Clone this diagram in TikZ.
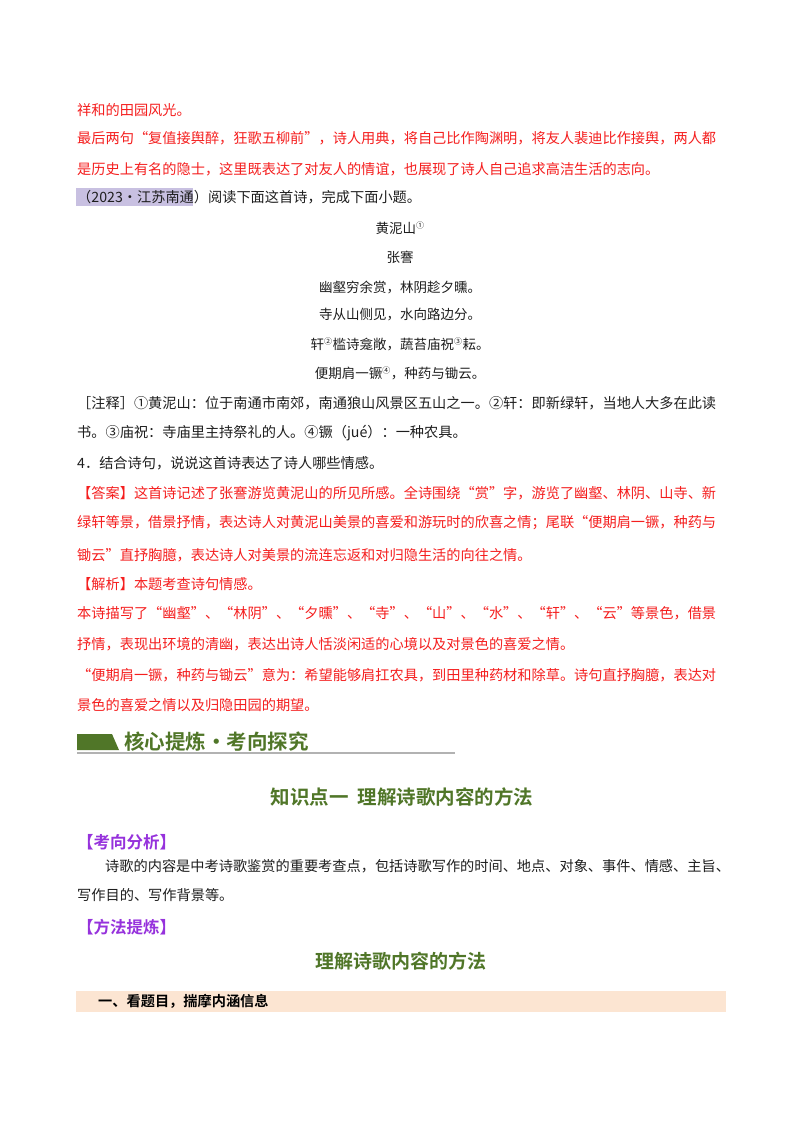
\documentclass[tikz,border=0pt]{standalone}
\usepackage{fontspec}
\setmainfont{Noto Sans CJK SC}
\newfontfamily\cjkb{Noto Sans CJK SC Bold}
\definecolor{ansred}{RGB}{245,30,30}
\definecolor{hdgreen}{RGB}{80,118,40}
\definecolor{tagpurple}{RGB}{150,50,220}
\definecolor{hlbox}{RGB}{200,192,225}
\definecolor{bandpeach}{RGB}{252,229,210}
\definecolor{bodygray}{RGB}{30,30,30}
\tikzset{
  ln/.style={anchor=west,inner sep=0pt,font=\fontsize{14.2}{16}\selectfont},
  rl/.style={ln,text=ansred},
  bl/.style={ln,text=bodygray},
  pm/.style={anchor=center,inner sep=0pt,font=\fontsize{13.5}{16}\selectfont,text=bodygray},
  hd/.style={anchor=center,inner sep=0pt,font=\cjkb\fontsize{19.5}{22}\selectfont,text=hdgreen},
  tag/.style={anchor=west,inner sep=0pt,font=\cjkb\fontsize{16.5}{18}\selectfont,text=tagpurple}
}
\newcommand{\sps}[1]{\textsuperscript{\fontsize{8}{8}\selectfont #1}}
\begin{document}
\begin{tikzpicture}[x=1pt,y=-1pt]
\useasboundingbox[fill=white] (0,0) rectangle (800,1132);
\node[rl] (l1) at (77,110) {祥和的田园风光。};
\node[rl] (l2) at (77,138) {最后两句“复值接舆醉，狂歌五柳前”，诗人用典，将自己比作陶渊明，将友人裴迪比作接舆，两人都};
\node[rl] (l3) at (77,169) {是历史上有名的隐士，这里既表达了对友人的情谊，也展现了诗人自己追求高洁生活的志向。};
\fill[hlbox] (76,188) rectangle (193,206);
\node[bl] (l4) at (77,197) {（2023·江苏南通）阅读下面这首诗，完成下面小题。};
\node[pm] (p1) at (400,228) {黄泥山\sps{①}};
\node[pm] (p2) at (400,257) {张謇};
\node[pm] (p3) at (400,287) {幽壑穷余赏，林阴趁夕曛。};
\node[pm] (p4) at (400,315) {寺从山侧见，水向路边分。};
\node[pm] (p5) at (400,344) {轩\sps{②}槛诗龛敞，蔬苔庙祝\sps{③}耘。};
\node[pm] (p6) at (400,373) {便期肩一镢\sps{④}，种药与锄云。};
\node[bl] (n1) at (77,403) {［注释］①黄泥山：位于南通市南郊，南通狼山风景区五山之一。②轩：即新绿轩，当地人大多在此读};
\node[bl] (n2) at (77,433) {书。③庙祝：寺庙里主持祭礼的人。④镢（jué）：一种农具。};
\node[bl] (q) at (77,463) {4．结合诗句，说说这首诗表达了诗人哪些情感。};
\node[rl] (a1) at (77,493) {【答案】这首诗记述了张謇游览黄泥山的所见所感。全诗围绕“赏”字，游览了幽壑、林阴、山寺、新};
\node[rl] (a2) at (77,523) {绿轩等景，借景抒情，表达诗人对黄泥山美景的喜爱和游玩时的欣喜之情；尾联“便期肩一镢，种药与};
\node[rl] (a3) at (77,555) {锄云”直抒胸臆，表达诗人对美景的流连忘返和对归隐生活的向往之情。};
\node[rl] (j1) at (77,584) {【解析】本题考查诗句情感。};
\node[rl] (j2) at (77,613) {本诗描写了“幽壑”、“林阴”、“夕曛”、“寺”、“山”、“水”、“轩”、“云”等景色，借景};
\node[rl] (j3) at (77,644) {抒情，表现出环境的清幽，表达出诗人恬淡闲适的心境以及对景色的喜爱之情。};
\node[rl] (j4) at (77,675) {“便期肩一镢，种药与锄云”意为：希望能够肩扛农具，到田里种药材和除草。诗句直抒胸臆，表达对};
\node[rl] (j5) at (77,705) {景色的喜爱之情以及归隐田园的期望。};
% banner
\fill[hdgreen] (77,734) -- (112,734) -- (119,750) -- (77,750) -- cycle;
\node[anchor=west,inner sep=0pt,font=\cjkb\fontsize{20.5}{22}\selectfont,text=hdgreen] (bn) at (124,742) {核心提炼·考向探究};
\draw[gray!60,line width=1.2pt] (77,753) -- (455,753);
\node[hd] (t1) at (402,797) {知识点一\ \ 理解诗歌内容的方法};
\node[tag] (k1) at (77,842) {【考向分析】};
\node[ln,text=bodygray] (b1) at (105,866) {诗歌的内容是中考诗歌鉴赏的重要考查点，包括诗歌写作的时间、地点、对象、事件、情感、主旨、};
\node[ln,text=bodygray] (b2) at (77,895) {写作目的、写作背景等。};
\node[tag] (k2) at (77,927) {【方法提炼】};
\node[hd,font=\cjkb\fontsize{19}{22}\selectfont] (t2) at (401,961) {理解诗歌内容的方法};
\fill[bandpeach] (76,991) rectangle (726,1012);
\node[anchor=west,inner sep=0pt,font=\cjkb\fontsize{14.2}{16}\selectfont,text=black] (s1) at (98,1001) {一、看题目，揣摩内涵信息};
\end{tikzpicture}
\end{document}
